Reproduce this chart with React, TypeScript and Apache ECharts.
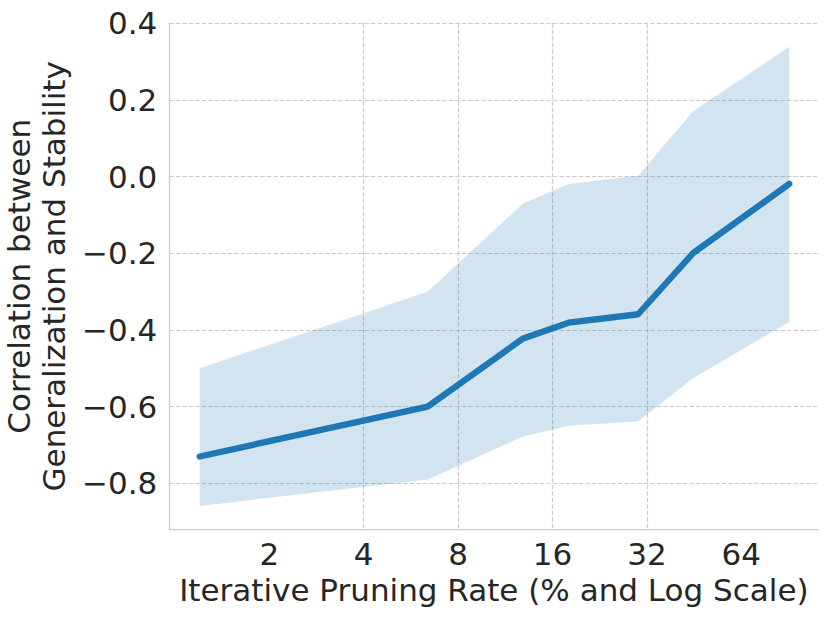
import React, { useEffect, useRef } from "react";
import * as echarts from "echarts";

const pruningRates = [1.2, 6.4, 12.9, 18, 30, 45, 91];
const meanCorr = [-0.73, -0.6, -0.422, -0.381, -0.359, -0.199, -0.019];
const upperCorr = [-0.5, -0.3, -0.07, -0.019, 0.002, 0.171, 0.339];
const lowerCorr = [-0.859, -0.79, -0.678, -0.65, -0.639, -0.525, -0.379];
const xTicks = [2, 4, 8, 16, 32, 64];

const FONT = "DejaVu Sans";
const TEXT = "#262626";
const GRID = "#cccccc";
const FS = 31;

export default function App() {
  const ref = useRef<HTMLDivElement>(null);
  useEffect(() => {
    if (!ref.current) return;
    const chart = echarts.init(ref.current, null, { renderer: "svg" });
    const bandData = pruningRates.map((x, i) => [x, upperCorr[i], lowerCorr[i]]);
    const meanData = pruningRates.map((x, i) => [x, meanCorr[i]]);
    chart.setOption({
      animation: false,
      backgroundColor: "#ffffff",
      grid: {
        left: 169.3,
        right: 11.5,
        top: 23.3,
        bottom: 89.7,
        containLabel: false,
        outerBoundsMode: "none",
      },
      xAxis: {
        type: "log",
        logBase: 2,
        min: 0.96,
        max: 112.8,
        name: "Iterative Pruning Rate (% and Log Scale)",
        nameLocation: "middle",
        nameGap: 45.5,
        nameTextStyle: { fontFamily: FONT, fontSize: FS, color: TEXT },
        axisLine: { show: true, onZero: false, lineStyle: { color: GRID, width: 1.25 } },
        axisTick: { show: false, customValues: xTicks },
        axisLabel: {
          customValues: xTicks,
          fontFamily: FONT,
          fontSize: FS,
          color: TEXT,
          margin: 9.5,
          formatter: (v: number) => String(Math.round(v)),
        },
        splitLine: {
          show: true,
          showMinLine: false,
          showMaxLine: false,
          lineStyle: { color: GRID, width: 1.2, type: [4.5, 2] },
        },
      },
      yAxis: {
        type: "value",
        min: -0.92,
        max: 0.4,
        minInterval: 0.2,
        maxInterval: 0.2,
        name: "Correlation between\nGeneralization and Stability",
        nameLocation: "middle",
        nameGap: 91.5,
        nameRotate: 90,
        nameTextStyle: { fontFamily: FONT, fontSize: FS, color: TEXT, lineHeight: 35 },
        axisLine: { show: true, onZero: false, lineStyle: { color: GRID, width: 1.25 } },
        axisTick: { show: false },
        axisLabel: {
          showMinLabel: false,
          fontFamily: FONT,
          fontSize: FS,
          color: TEXT,
          margin: 12,
          formatter: (v: number) => v.toFixed(1).replace("-", "\u2212"),
        },
        splitLine: {
          show: true,
          showMinLine: false,
          lineStyle: { color: GRID, width: 1.2, type: [4.5, 2] },
        },
      },
      series: [
        {
          type: "custom",
          data: bandData,
          encode: { x: 0, y: [1, 2] },
          silent: true,
          z: 1,
          renderItem: (params: any, api: any) => {
            if (params.dataIndex !== 0) return null;
            const pts: number[][] = [];
            for (let i = 0; i < pruningRates.length; i++) {
              pts.push(api.coord([pruningRates[i], upperCorr[i]]));
            }
            for (let i = pruningRates.length - 1; i >= 0; i--) {
              pts.push(api.coord([pruningRates[i], lowerCorr[i]]));
            }
            return {
              type: "polygon",
              shape: { points: pts },
              style: { fill: "rgba(31,119,180,0.2)", stroke: "none" },
            };
          },
        },
        {
          type: "line",
          data: meanData,
          symbol: "none",
          lineStyle: { color: "#1f77b4", width: 6.3, cap: "round", join: "round" },
          z: 5,
        },
      ],
    });
    return () => chart.dispose();
  }, []);
  return (
    <div
      ref={ref}
      style={{ position: "fixed", left: 0, top: 0, width: 830, height: 619 }}
    />
  );
}
